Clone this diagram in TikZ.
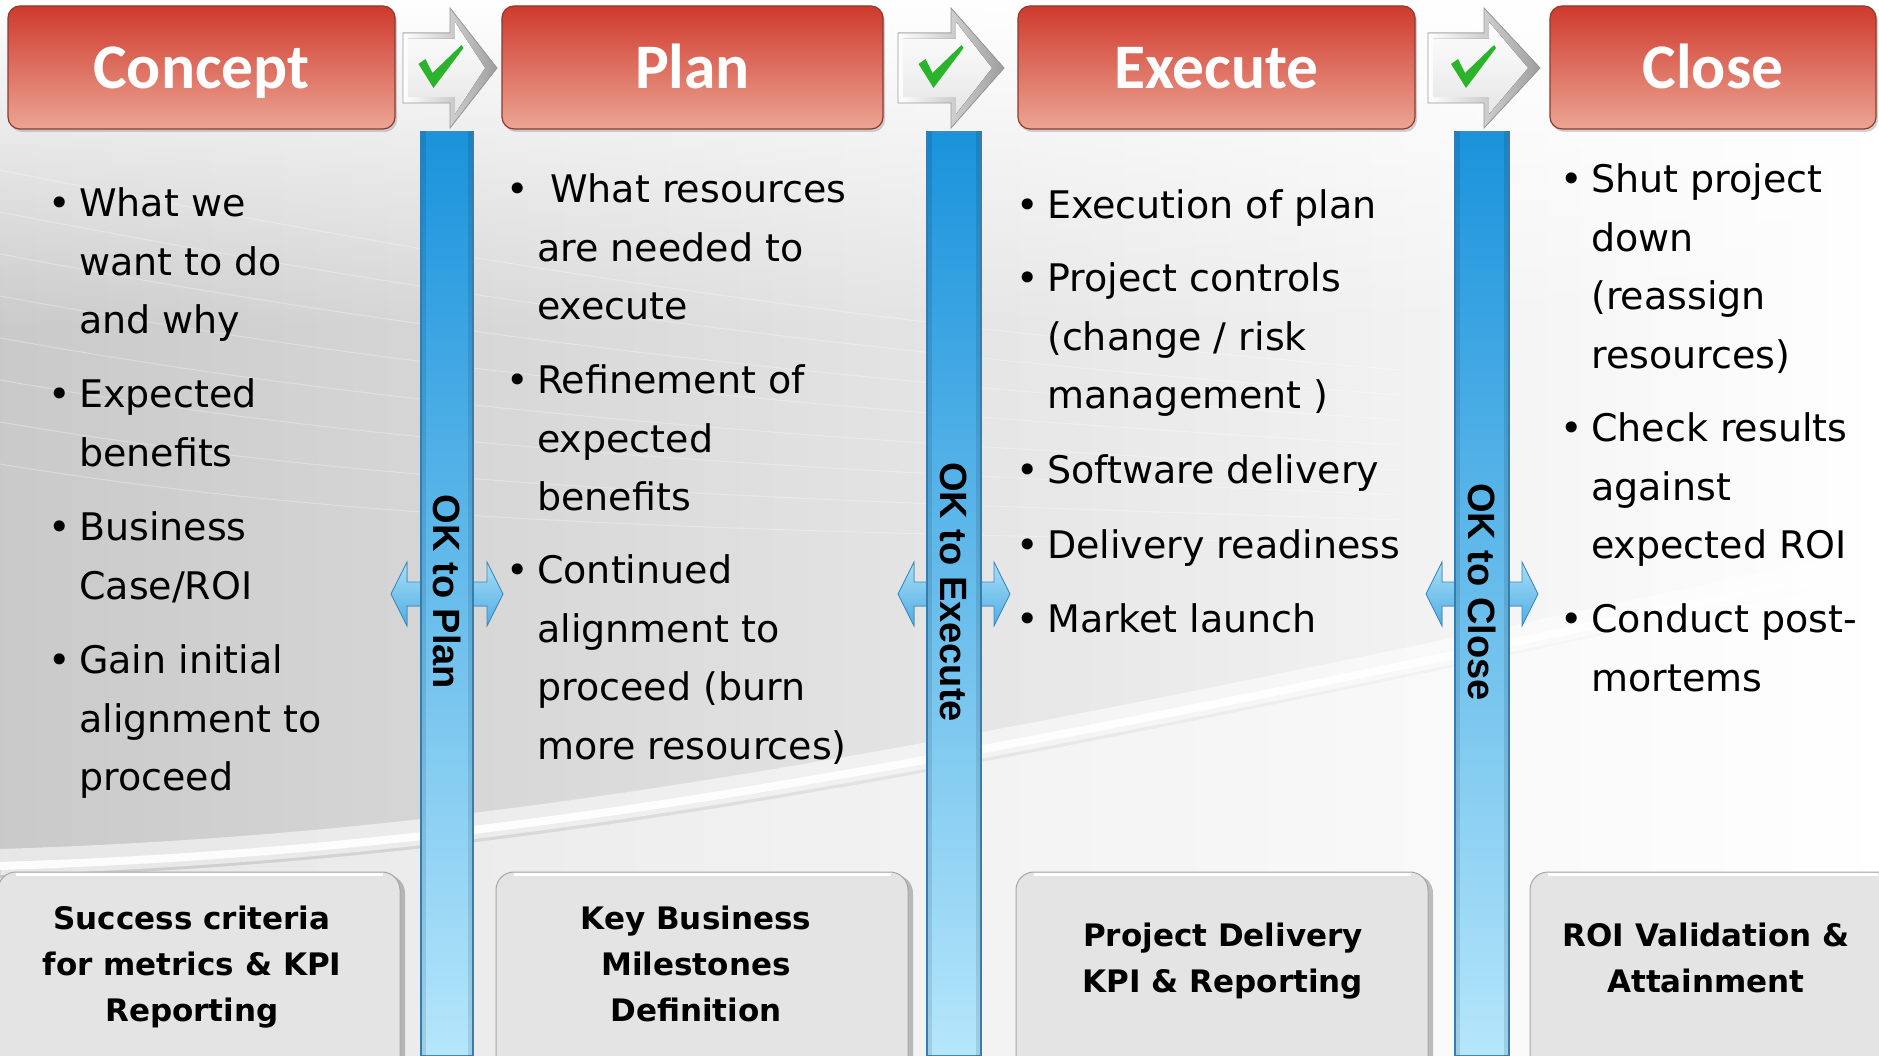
\documentclass[tikz,border=0pt]{standalone}
\usepackage{fontspec}
\setmainfont{DejaVu Sans}
\newfontfamily\hdrfont{Carlito}
\newfontfamily\barfont{Liberation Sans}
\usetikzlibrary{shadows,fadings}

\definecolor{hdrTop}{HTML}{CF3A2D}
\definecolor{hdrBot}{HTML}{ECA594}
\definecolor{hdrEdge}{HTML}{8C3A30}
\definecolor{barTop}{HTML}{1A93DC}
\definecolor{barBot}{HTML}{B5E6FB}
\definecolor{barEdge}{HTML}{3A8CC4}
\definecolor{arrTop}{HTML}{A8DEF8}
\definecolor{arrBot}{HTML}{4EAEE4}
\definecolor{arrEdge}{HTML}{3D87BD}
\definecolor{chk}{HTML}{2BB32B}
\definecolor{boxFill}{HTML}{E4E4E4}

\tikzfading[name=fadedown, top color=transparent!0, bottom color=transparent!100]

\newcommand\chkarrow[2]{%
  \pgfmathsetmacro\am{(#1+#2)/2}%
  \pgfmathsetmacro\ac{#1+0.42*(#2-#1)}%
  \fill[left color=white, right color=black!38, draw=black!40, line width=0.8pt]
    (#1,33) -- (\am,33) -- (\am,8) -- (#2,68) -- (\am,128) -- (\am,103) -- (#1,103) -- cycle;
  \fill[top color=white, bottom color=black!10]
    (#1+5,39) -- (\am+5,39) -- (\am+5,22) -- (#2-12,68) -- (\am+5,114) -- (\am+5,97) -- (#1+5,97) -- cycle;
  \fill[chk] (\ac-24,64) -- (\ac-17,59) -- (\ac-10,73) -- (\ac+19,45) -- (\ac+21,48) -- (\ac-9,88) -- cycle;
}
\newcommand\dblarr[1]{%
  \fill[top color=arrTop, bottom color=arrBot, draw=arrEdge, line width=0.8pt]
    (#1-56,594) -- (#1-40,562) -- (#1-40,582) -- (#1+40,582) -- (#1+40,562) -- (#1+56,594)
    -- (#1+40,626) -- (#1+40,606) -- (#1-40,606) -- (#1-40,626) -- cycle;
}
\newcommand\bitem[5]{% name, bullet x, text x, first baseline, text
  \node[bultext] (#1) at (#3,#4-38.5) {\strut #5};
  \node[bulmark] (#1m) at (#2,#4+2.5) {•};
}

\begin{document}
\begin{tikzpicture}[x=1pt, y=-1pt,
  hdrbox/.style={rounded corners=12pt, top color=hdrTop, bottom color=hdrBot, draw=hdrEdge,
    line width=1.2pt, text=white, font=\hdrfont\bfseries\fontsize{63.5}{63.5}\selectfont,
    text height=52pt, text depth=9pt, inner sep=0pt,
    drop shadow={shadow xshift=2pt, shadow yshift=-3pt, opacity=0.35}},
  bluebar/.style={top color=barTop, bottom color=barBot, draw=barEdge, line width=1.2pt, inner sep=0pt},
  bartext/.style={rotate=-90, inner sep=0pt, font=\barfont\bfseries\fontsize{38}{38}\selectfont},
  botbox/.style={rounded corners=18pt, fill=boxFill, draw=black!35, line width=1pt, inner sep=0pt,
    drop shadow={shadow xshift=5pt, shadow yshift=-3pt, opacity=0.5}},
  boxtext/.style={anchor=north, align=center, inner sep=0pt, font=\bfseries\fontsize{31}{46}\selectfont},
  bultext/.style={anchor=north west, align=left, inner sep=0pt, font=\fontsize{38}{58.5}\selectfont},
  bulmark/.style={anchor=base, inner sep=0pt, font=\fontsize{38}{58.5}\selectfont}
]
\useasboundingbox (0,0) rectangle (1879,1056);

% ---------- background ----------
\fill[white] (0,0) rectangle (1879,1056);
\shade[left color=black!21, middle color=black!8, right color=white] (0,0) rectangle (1879,1056);
\fill[white, path fading=fadedown] (0,0) rectangle (1879,330);
\foreach \k in {0,...,7}
  \draw[white, opacity=0.3, line width=1pt]
    (0,{170+42*\k}) .. controls (400,{250+40*\k}) and (800,{320+30*\k}) .. (1400,{370+25*\k});
\fill[white, opacity=0.55] (0,878) .. controls (500,862) and (900,790) .. (1879,575)
  -- (1879,1056) -- (0,1056) -- cycle;
\draw[white, line width=26pt, opacity=0.55] (0,862) .. controls (500,846) and (900,772) .. (1879,560);
\draw[white, line width=8pt, opacity=0.9] (0,866) .. controls (500,850) and (900,776) .. (1879,564);

% ---------- header boxes ----------
\node[hdrbox, minimum width=387pt, minimum height=123pt] (hConcept) at (201.5,67.5) {Concept};
\node[hdrbox, minimum width=381pt, minimum height=123pt] (hPlan) at (692.5,67.5) {Plan};
\node[hdrbox, minimum width=397pt, minimum height=123pt] (hExec) at (1216.5,67.5) {Execute};
\node[hdrbox, minimum width=326pt, minimum height=123pt] (hClose) at (1713,67.5) {Close};

% ---------- check arrows ----------
\chkarrow{403}{497}
\chkarrow{898}{1004}
\chkarrow{1428}{1540}

% ---------- bottom boxes ----------
\node[botbox, minimum width=402pt, minimum height=218pt] (bConcept) at (199,981) {};
\node[botbox, minimum width=412pt, minimum height=218pt] (bPlan) at (702,981) {};
\node[botbox, minimum width=412pt, minimum height=218pt] (bExec) at (1222,981) {};
\node[botbox, minimum width=365pt, minimum height=218pt] (bClose) at (1712.5,981) {};
\foreach \b in {bConcept,bPlan,bExec,bClose}
  \draw[white, line width=3pt] ([xshift=18pt,yshift=-3pt]\b.north west) -- ([xshift=-18pt,yshift=-3pt]\b.north east);

\node[boxtext] (tConcept) at (192,929-32.2) {\strut Success criteria\\for metrics \& KPI\\Reporting};
\node[boxtext] (tPlan) at (696,929-32.2) {\strut Key Business\\Milestones\\Definition};
\node[boxtext] (tExec) at (1223,946-32.2) {\strut Project Delivery\\KPI \& Reporting};
\node[boxtext] (tClose) at (1706,946-32.2) {\strut ROI Validation \&\\Attainment};

% ---------- gates ----------
\dblarr{447}
\dblarr{954}
\dblarr{1482}
\node[bluebar, minimum width=52pt, minimum height=924pt] (barPlan) at (447,594) {};
\node[bluebar, minimum width=54pt, minimum height=924pt] (barExec) at (954,594) {};
\node[bluebar, minimum width=54pt, minimum height=924pt] (barClose) at (1482,594) {};
\foreach \b in {barPlan,barExec,barClose}{
  \fill[black, opacity=0.10] (\b.north west) rectangle ([xshift=6pt]\b.south west);
  \fill[black, opacity=0.10] ([xshift=-6pt]\b.north east) rectangle (\b.south east);
}
\node[bartext] (gPlan) at (447,592) {OK to Plan};
\node[bartext] (gExec) at (954,592) {OK to Execute};
\node[bartext] (gClose) at (1482,592) {OK to Close};

% ---------- bullet texts ----------
\bitem{c1}{60}{79}{214}{What we\\want to do\\and why}
\bitem{c2}{60}{79}{405}{Expected\\benefits}
\bitem{c3}{60}{79}{538}{Business\\Case/ROI}
\bitem{c4}{60}{79}{671}{Gain initial\\alignment to\\proceed}

\bitem{p1}{518}{537}{200}{\hspace{13pt}What resources\\are needed to\\execute}
\bitem{p2}{518}{537}{391}{Refinement of\\expected\\benefits}
\bitem{p3}{518}{537}{581}{Continued\\alignment to\\proceed (burn\\more resources)}

\bitem{e1}{1028}{1047}{216}{Execution of plan}
\bitem{e2}{1028}{1047}{289}{Project controls\\(change / risk\\management )}
\bitem{e3}{1028}{1047}{481}{Software delivery}
\bitem{e4}{1028}{1047}{556}{Delivery readiness}
\bitem{e5}{1028}{1047}{630}{Market launch}

\bitem{k1}{1572}{1591}{190}{Shut project\\down\\(reassign\\resources)}
\bitem{k2}{1572}{1591}{439}{Check results\\against\\expected ROI}
\bitem{k3}{1572}{1591}{630}{Conduct post-\\mortems}
\end{tikzpicture}
\end{document}
